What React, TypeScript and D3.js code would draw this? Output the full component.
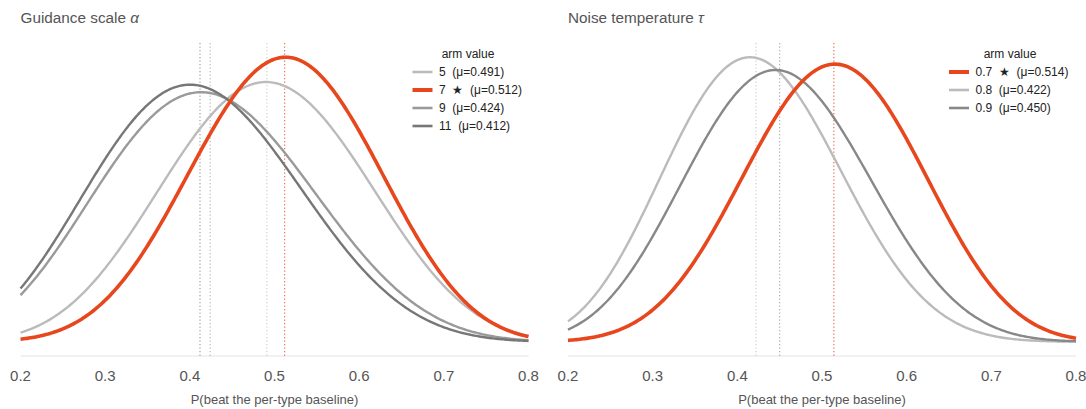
import React from "react";
import * as d3 from "d3";

// ---------- data ----------
const X_TICKS = [0.2, 0.3, 0.4, 0.5, 0.6, 0.7, 0.8];
const X_LABEL = "P(beat the per-type baseline)";

const guidanceArms = ["5", "7", "9", "11"];
const guidanceMeans = [0.491, 0.512, 0.424, 0.412];
const guidanceConcentration = [18, 21.5, 16.2, 17];
const guidanceBest = [false, true, false, false];

const noiseArms = ["0.7", "0.8", "0.9"];
const noiseMeans = [0.514, 0.422, 0.45];
const noiseConcentration = [23.5, 24, 22.3];
const noiseBest = [true, false, false];

// ---------- styles ----------
const ORANGE = "#e8471e";
const guidanceColors = ["#bbbbbb", ORANGE, "#9a9a9a", "#777777"];
const noiseColors = [ORANGE, "#bbbbbb", "#888888"];

const W = 1086;
const H = 409;
const TOP = 43;
const BOTTOM = 356;
const FONT = "'Liberation Sans', Arial, Helvetica, sans-serif";

function lgamma(z: number): number {
  const g = 7;
  const c = [
    0.99999999999980993, 676.5203681218851, -1259.1392167224028,
    771.32342877765313, -176.61502916214059, 12.507343278686905,
    -0.13857109526572012, 9.9843695780195716e-6, 1.5056327351493116e-7,
  ];
  if (z < 0.5) return Math.log(Math.PI / Math.sin(Math.PI * z)) - lgamma(1 - z);
  z -= 1;
  let x = c[0];
  for (let i = 1; i < g + 2; i++) x += c[i] / (z + i);
  const t = z + g + 0.5;
  return 0.5 * Math.log(2 * Math.PI) + (z + 0.5) * Math.log(t) - t + Math.log(x);
}

function betaPdf(x: number, a: number, b: number): number {
  const lb = lgamma(a) + lgamma(b) - lgamma(a + b);
  return Math.exp((a - 1) * Math.log(x) + (b - 1) * Math.log(1 - x) - lb);
}

type PanelProps = {
  x0: number;
  x1: number;
  title: string;
  symbol: string;
  arms: string[];
  means: number[];
  conc: number[];
  best: boolean[];
  colors: string[];
  legendX: number;
  legendCenter: number;
};

function Panel(p: PanelProps) {
  const x = d3.scaleLinear().domain([0.2, 0.8]).range([p.x0, p.x1]);
  const grid = d3.range(0.2, 0.8 + 1e-9, 0.002);
  const curves = p.means.map((m, i) => {
    const a = m * p.conc[i];
    const b = (1 - m) * p.conc[i];
    return grid.map((g) => [g, betaPdf(g, a, b)] as [number, number]);
  });
  const maxY = d3.max(curves.flat(), (d) => d[1]) as number;
  const y = d3
    .scaleLinear()
    .domain([-0.05 * maxY, 1.05 * maxY])
    .range([BOTTOM, TOP]);
  const line = d3
    .line<[number, number]>()
    .x((d) => x(d[0]))
    .y((d) => y(d[1]))
    .curve(d3.curveLinear);

  const order = p.arms.map((_, i) => i).sort((a, b) => Number(p.best[a]) - Number(p.best[b]));

  return (
    <g>
      <text x={p.x0} y={22.5} fontSize={15.3} fill="#555" fontFamily={FONT}>
        {p.title}
        <tspan fontStyle="italic">{p.symbol}</tspan>
      </text>
      {/* axis line */}
      <line x1={p.x0} x2={p.x1} y1={BOTTOM} y2={BOTTOM} stroke="#e3e3e3" strokeWidth={1.2} />
      {X_TICKS.map((t) => (
        <text
          key={t}
          x={x(t)}
          y={381}
          textAnchor="middle"
          fontSize={15}
          fill="#555"
          fontFamily={FONT}
        >
          {t.toFixed(1)}
        </text>
      ))}
      <text
        x={(p.x0 + p.x1) / 2}
        y={404}
        textAnchor="middle"
        fontSize={13}
        fill="#555"
        fontFamily={FONT}
      >
        {X_LABEL}
      </text>
      {/* mean markers */}
      {p.means.map((m, i) => (
        <line
          key={"m" + i}
          x1={x(m)}
          x2={x(m)}
          y1={TOP}
          y2={BOTTOM}
          stroke={p.colors[i]}
          strokeOpacity={p.best[i] ? 0.85 : 0.75}
          strokeWidth={1.1}
          strokeDasharray="1.3 2.2"
        />
      ))}
      {order.map((i) => (
        <path
          key={"c" + i}
          d={line(curves[i]) as string}
          fill="none"
          stroke={p.colors[i]}
          strokeWidth={p.best[i] ? 3.6 : 2.4}
          strokeLinejoin="round"
          strokeLinecap="butt"
        />
      ))}
      {/* legend */}
      <text
        x={p.legendCenter}
        y={58}
        textAnchor="middle"
        fontSize={12}
        fill="#222"
        fontFamily={FONT}
      >
        arm value
      </text>
      {p.arms.map((arm, i) => {
        const cy = 72 + i * 18;
        const label = `${arm}  ${p.best[i] ? "★  " : ""}(μ=${p.means[i].toFixed(3)})`;
        return (
          <g key={"l" + i}>
            <line
              x1={p.legendX}
              x2={p.legendX + 20}
              y1={cy}
              y2={cy}
              stroke={p.colors[i]}
              strokeWidth={p.best[i] ? 4 : 2.6}
            />
            <text
              x={p.legendX + 26.5}
              y={cy + 4.3}
              fontSize={12}
              fill="#222"
              fontFamily={FONT}
              style={{ whiteSpace: "pre" }}
            >
              {label}
            </text>
          </g>
        );
      })}
    </g>
  );
}

export default function App() {
  return (
    <svg
      width={W}
      height={H}
      style={{ position: "absolute", left: 0, top: 0, background: "#fff" }}
    >
      <rect width={W} height={H} fill="#fff" />
      <Panel
        x0={20.5}
        x1={528.5}
        title="Guidance scale "
        symbol="α"
        arms={guidanceArms}
        means={guidanceMeans}
        conc={guidanceConcentration}
        best={guidanceBest}
        colors={guidanceColors}
        legendX={412.5}
        legendCenter={468}
      />
      <Panel
        x0={568}
        x1={1076}
        title="Noise temperature "
        symbol="τ"
        arms={noiseArms}
        means={noiseMeans}
        conc={noiseConcentration}
        best={noiseBest}
        colors={noiseColors}
        legendX={949}
        legendCenter={1010}
      />
    </svg>
  );
}
